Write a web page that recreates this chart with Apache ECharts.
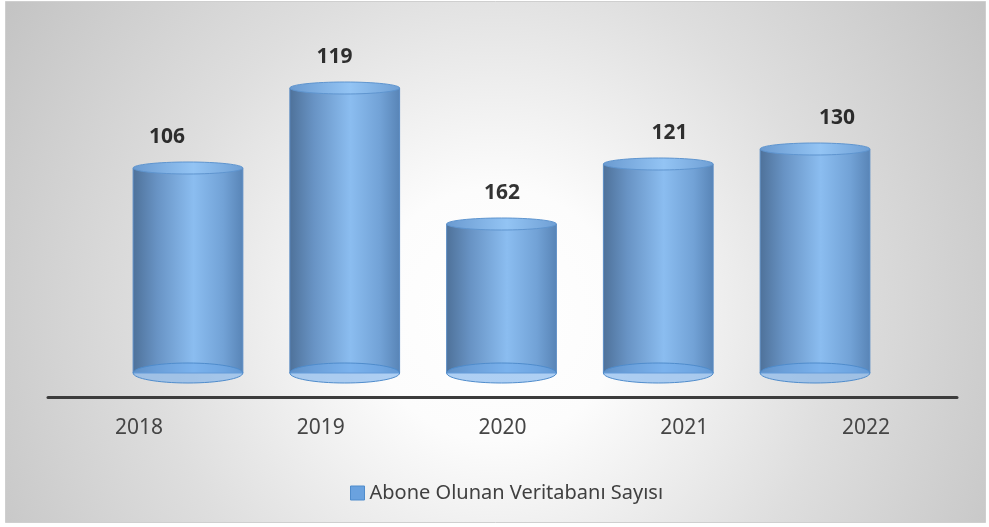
<!DOCTYPE html>
<html>
<head>
<meta charset="utf-8">
<script src="https://cdn.jsdelivr.net/npm/echarts@6/dist/echarts.min.js"></script>
<style>
  html, body { margin: 0; padding: 0; background: #fff; }
  #chart { width: 989px; height: 527px; }
</style>
</head>
<body>
<div id="chart"></div>
<script>
// yıllar
const years = ['2018', '2019', '2020', '2021', '2022'];
// silindir yükseklikleri (piksel birimi)
const heights = [205, 285, 149, 209, 224];
// çubukların üzerindeki etiketler
const labels = ['106', '119', '162', '121', '130'];
const seriesName = 'Abone Olunan Veritabanı Sayısı';

const font = '"Noto Sans", "Open Sans", sans-serif';

let myChart = echarts.init(document.getElementById('chart'));

function renderCylinder(params, api) {
  const top = api.coord([api.value(0), api.value(1)]);
  const bot = api.coord([api.value(0), 0]);
  const w = api.size([1, 0])[0] * 0.7;
  const rx = w / 2;
  return {
    type: 'group',
    children: [
      {
        type: 'rect',
        shape: { x: top[0] - rx, y: top[1], width: w, height: bot[1] - top[1] },
        style: {
          fill: new echarts.graphic.LinearGradient(0, 0, 1, 0, [
            { offset: 0, color: '#4e7199' },
            { offset: 0.22, color: '#6893c4' },
            { offset: 0.55, color: '#8bbdf0' },
            { offset: 0.82, color: '#72a2d6' },
            { offset: 1, color: '#5884b6' }
          ]),
          stroke: '#5b8cc4',
          lineWidth: 1
        }
      },
      {
        type: 'ellipse',
        shape: { cx: bot[0], cy: bot[1], rx: rx, ry: 10 },
        style: { fill: 'rgba(110,170,235,0.55)', stroke: '#4f8ccc', lineWidth: 1 }
      },
      {
        type: 'ellipse',
        shape: { cx: top[0], cy: top[1], rx: rx, ry: 6 },
        style: {
          fill: new echarts.graphic.LinearGradient(0, 0, 1, 0, [
            { offset: 0, color: '#6a9ad0' },
            { offset: 0.55, color: '#93c4f4' },
            { offset: 1, color: '#6f9fd4' }
          ]),
          stroke: '#5f95cf',
          lineWidth: 1
        }
      }
    ]
  };
}

myChart.setOption({
  animation: false,
  graphic: [{
    type: 'rect',
    z: -10,
    shape: { x: 5.5, y: 1.5, width: 980, height: 521 },
    style: {
      fill: new echarts.graphic.RadialGradient(0.5, 0.6, 1.1, [
        { offset: 0, color: '#ffffff' },
        { offset: 0.22, color: '#fcfcfc' },
        { offset: 0.6, color: '#dedede' },
        { offset: 1, color: '#c4c4c4' }
      ]),
      stroke: '#cfcfcf',
      lineWidth: 1
    }
  }],
  legend: {
    left: 345,
    top: 478,
    itemWidth: 14,
    itemHeight: 14,
    itemGap: 6,
    textStyle: { fontFamily: font, fontSize: 20, color: '#404040' },
    data: [{ name: seriesName, icon: 'rect', itemStyle: { color: '#6aa2df', borderColor: '#4f8ccc', borderWidth: 1 } }]
  },
  grid: [
    { left: 109.6, right: 95.6, top: 0, bottom: 130 },
    { left: 48, right: 32, top: 0, bottom: 130 },
    { left: 83.25, right: 68.25, top: 0, bottom: 130 }
  ],
  xAxis: [
    { gridIndex: 0, type: 'category', data: years, show: false },
    {
      gridIndex: 1, type: 'category', data: years,
      axisLine: { onZero: false, lineStyle: { color: '#3c3c3c', width: 3 } },
      axisTick: { show: false },
      axisLabel: { fontFamily: font, fontSize: 21, color: '#454545', margin: 21 }
    },
    { gridIndex: 2, type: 'category', data: years, show: false }
  ],
  yAxis: [
    { gridIndex: 0, min: -24, max: 373, show: false },
    { gridIndex: 1, min: -24, max: 373, show: false },
    { gridIndex: 2, min: -24, max: 373, show: false }
  ],
  series: [
    {
      name: seriesName,
      type: 'custom',
      xAxisIndex: 0,
      yAxisIndex: 0,
      renderItem: renderCylinder,
      data: heights.map(function (h, i) { return [i, h]; })
    },
    {
      type: 'scatter',
      xAxisIndex: 2,
      yAxisIndex: 2,
      symbolSize: 1,
      silent: true,
      itemStyle: { color: 'rgba(0,0,0,0)' },
      label: {
        show: true,
        position: 'top',
        distance: 20,
        fontFamily: font,
        fontSize: 21,
        fontWeight: 'bold',
        color: '#000',
        formatter: function (p) { return labels[p.dataIndex]; }
      },
      data: heights.map(function (h, i) { return [i, h]; })
    }
  ]
});
</script>
</body>
</html>
